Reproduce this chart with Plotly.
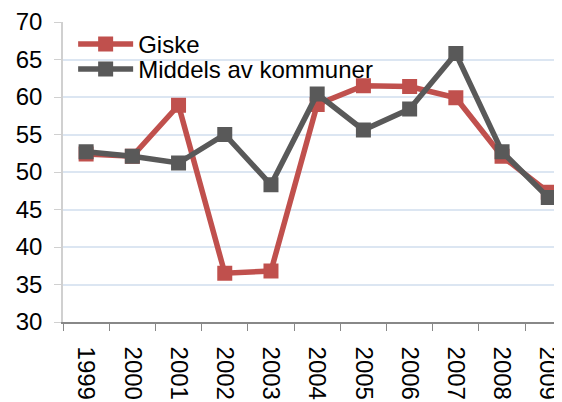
import plotly.graph_objects as go

years = ["1999", "2000", "2001", "2002", "2003", "2004", "2005", "2006", "2007", "2008", "2009"]
giske = [52.4, 52.1, 58.9, 36.5, 36.8, 59.0, 61.5, 61.4, 59.9, 52.1, 47.3]
middels = [52.7, 52.1, 51.2, 55.0, 48.3, 60.4, 55.6, 58.4, 65.8, 52.7, 46.6]

RED = "#c0504d"
GRAY = "#595959"
FONT = "Liberation Sans, Arial, sans-serif"

fig = go.Figure()
fig.add_trace(go.Scatter(x=years, y=giske, name="Giske", mode="lines+markers",
                         line=dict(color=RED, width=5.5),
                         marker=dict(symbol="square", size=15, color=RED),
                         legend="legend"))
fig.add_trace(go.Scatter(x=years, y=middels, name="Middels av kommuner", mode="lines+markers",
                         line=dict(color=GRAY, width=5.5),
                         marker=dict(symbol="square", size=15, color=GRAY),
                         legend="legend2"))

legend_common = dict(xanchor="left", yanchor="top", bgcolor="rgba(0,0,0,0)", borderwidth=0,
                     font=dict(family=FONT, size=24, color="#000000"), itemwidth=55)

# white legend background (covers gridlines, below traces)
fig.add_shape(type="rect", xref="paper", yref="paper", x0=0.003, x1=0.645, y0=0.813, y1=0.994,
              fillcolor="white", line=dict(width=0), layer="between")

fig.update_layout(
    width=562, height=402,
    margin=dict(l=55, r=0, t=14, b=88, autoexpand=False),
    paper_bgcolor="white", plot_bgcolor="white",
    font=dict(family=FONT, size=24, color="#000000"),
    showlegend=True,
    legend=dict(x=0.02, y=1.0, **legend_common),
    legend2=dict(x=0.02, y=0.917, **legend_common),
)
fig.update_xaxes(type="category", range=[-0.5, 10.47], tickson="boundaries", automargin=False,
                 showgrid=False, ticks="outside", ticklen=7, tickcolor="#888888",
                 showline=True, linecolor="#888888", linewidth=1.5,
                 tickangle=90, ticklabelstandoff=18,
                 tickfont=dict(family=FONT, size=24, color="#000000"))
fig.update_yaxes(range=[30, 70], dtick=5, showgrid=True, gridcolor="#dce6f2", gridwidth=1.5,
                 automargin=False, ticks="outside", ticklen=7, tickcolor="#d0d0d0",
                 showline=True, linecolor="#d0d0d0", linewidth=1.5, zeroline=False,
                 ticklabelstandoff=7,
                 tickfont=dict(family=FONT, size=24, color="#000000"))

fig.write_html("out.html")
